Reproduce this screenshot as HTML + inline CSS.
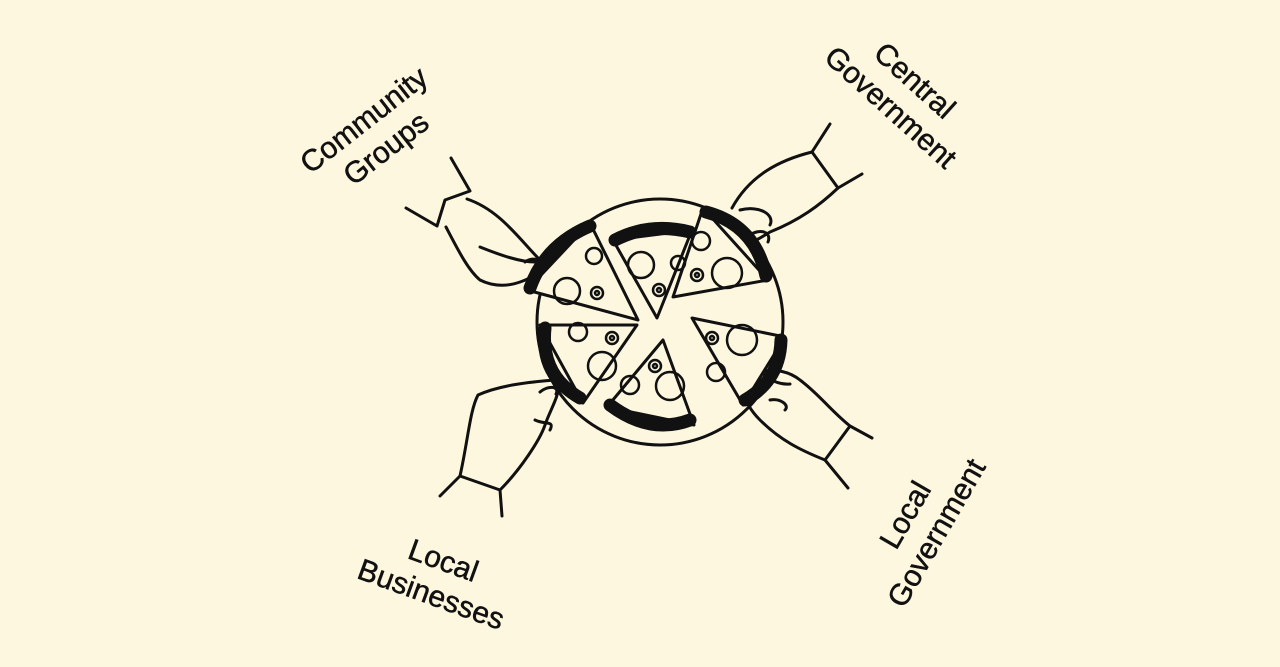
<!DOCTYPE html>
<html><head><meta charset="utf-8"><style>
html,body{margin:0;padding:0;background:#FDF7DF;}
svg{display:block}
text{font-family:"Liberation Sans",sans-serif;font-size:30px;fill:#111;stroke:#111;stroke-width:0.5;}
</style></head><body>
<svg width="1280" height="667" viewBox="0 0 1280 667" xmlns="http://www.w3.org/2000/svg">
<rect width="1280" height="667" fill="#FDF7DF"/>
<g fill="none" stroke="#111" stroke-width="3" stroke-linecap="round" stroke-linejoin="round">
<circle cx="660" cy="322" r="123"/>
<path d="M451 158 L470 191 L445 200 L437 226 L406 208"/>
<path d="M467 199 C500 210 520 240 540 260"/>
<path d="M446 227 C458 250 468 270 480 280 C500 290 520 285 540 272"/>
<path d="M480 247 C500 255 520 262 535 262"/>
<path d="M525 262 C535 255 545 262 540 268"/>
<path d="M830 124 L812 152 L838 188 L862 174"/>
<path d="M812 152 C780 160 750 175 732 208"/>
<path d="M838 188 C820 205 800 220 770 232 C760 238 752 244 748 240"/>
<path d="M740 210 C760 205 775 215 770 225"/>
<path d="M750 235 C760 228 772 232 768 242"/>
<path d="M440 496 L460 476 L500 490 L502 516"/>
<path d="M460 476 C468 440 470 410 478 395 C500 385 530 382 555 380"/>
<path d="M500 490 C520 470 540 440 545 425 C550 410 560 395 558 385"/>
<path d="M540 392 C548 385 560 386 556 394"/>
<path d="M535 420 C545 425 555 420 550 430"/>
<path d="M872 438 L850 426 L825 460 L848 488"/>
<path d="M850 426 C830 410 820 395 800 380 C790 372 775 368 762 372"/>
<path d="M825 460 C800 450 780 440 760 420 C750 410 745 400 745 395"/>
<path d="M762 372 C768 380 780 385 790 384"/>
<path d="M770 400 C780 398 790 405 785 410"/>
</g>
<g stroke="#111" stroke-width="3" stroke-linejoin="round" fill="#FDF7DF">
<polygon points="527,290 590,223 638,320"/>
<polygon points="613,240 692,230 657,318"/>
<polygon points="703,208 673,297 768,280"/>
<polygon points="692,318 785,337 743,405"/>
<polygon points="663,340 694,425 607,407"/>
<polygon points="540,325 637,325 583,403"/>
</g>
<g fill="none" stroke="#111" stroke-width="13" stroke-linecap="round">
<path d="M530 288 Q545 245 590 226"/>
<path d="M615 240 Q650 222 690 232"/>
<path d="M706 212 Q755 225 766 276"/>
<path d="M781 340 Q780 380 745 400"/>
<path d="M690 420 Q650 435 610 405"/>
<path d="M545 328 Q540 375 580 398"/>
</g>
<g fill="none" stroke="#111" stroke-width="2.5">
<circle cx="567" cy="291" r="13"/><circle cx="594" cy="256" r="8"/><circle cx="597" cy="293" r="6"/><circle cx="597" cy="293" r="2"/>
<circle cx="641" cy="265" r="13"/><circle cx="678" cy="263" r="7"/><circle cx="659" cy="290" r="6"/><circle cx="659" cy="290" r="2"/>
<circle cx="701" cy="241" r="9"/><circle cx="727" cy="273" r="15"/><circle cx="697" cy="275" r="6"/><circle cx="697" cy="275" r="2"/>
<circle cx="742" cy="340" r="15"/><circle cx="712" cy="338" r="6"/><circle cx="712" cy="338" r="2"/><circle cx="716" cy="372" r="9"/>
<circle cx="670" cy="386" r="14"/><circle cx="655" cy="366" r="6"/><circle cx="655" cy="366" r="2"/><circle cx="630" cy="385" r="9"/>
<circle cx="602" cy="366" r="14"/><circle cx="578" cy="332" r="9"/><circle cx="612" cy="338" r="6"/><circle cx="612" cy="338" r="2"/>
</g>
<g text-anchor="middle">
<text transform="translate(370,128) rotate(-38)"><tspan x="0" y="0">Community</tspan><tspan x="0" y="36">Groups</tspan></text>
<text transform="translate(908,88) rotate(42)"><tspan x="0" y="0">Central</tspan><tspan x="0" y="36">Government</tspan></text>
<text transform="translate(914,520) rotate(-60)"><tspan x="0" y="0">Local</tspan><tspan x="0" y="36">Government</tspan></text>
<text transform="translate(440,570) rotate(20)"><tspan x="0" y="0">Local</tspan><tspan x="0" y="36">Businesses</tspan></text>
</g>
</svg>
</body></html>
